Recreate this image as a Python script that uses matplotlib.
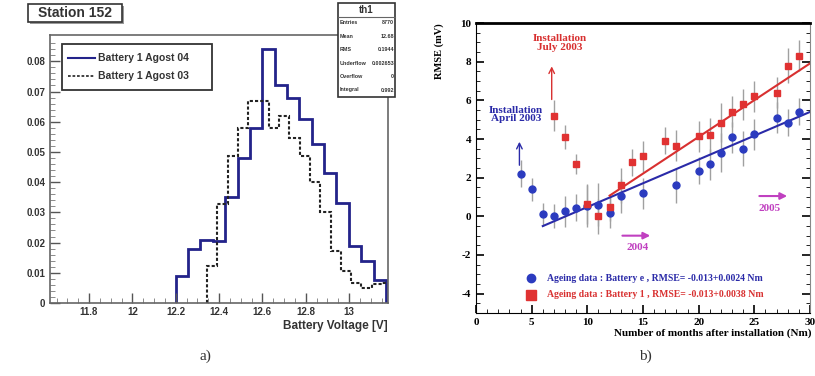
import numpy as np
import matplotlib
matplotlib.use("Agg")
import matplotlib.pyplot as plt
from matplotlib.patches import Rectangle

plt.rcParams["axes.unicode_minus"] = False

# ---- panel a) : battery voltage histograms ----
blue_start, blue_width = 12.2, 0.0571
blue_vals = [0.009, 0.018, 0.021, 0.0205, 0.035, 0.048, 0.058, 0.084, 0.072,
             0.068, 0.061, 0.0525, 0.043, 0.033, 0.019, 0.014, 0.0075]
black_start, black_width = 12.345, 0.0475
black_vals = [0.0123, 0.0327, 0.0487, 0.058, 0.067, 0.067, 0.058, 0.062, 0.0547,
              0.0487, 0.040, 0.030, 0.0172, 0.0106, 0.0067, 0.005, 0.0062, 0.0065]
hist_labels = ["Battery 1 Agost 04", "Battery 1 Agost 03"]
stat_names = ["Entries", "Mean", "RMS", "Underflow", "Overflow", "Integral"]
stat_vals = ["8770", "12.68", "0.1944", "0.002653", "0", "0.992"]

# ---- panel b) : RMSE ageing ----
blue_m = [4, 5, 6, 7, 8, 9, 10, 11, 12, 13, 15, 18, 20, 21, 22, 23, 24, 25, 27, 28, 29]
blue_y = [2.2, 1.4, 0.1, 0.02, 0.27, 0.45, 0.55, 0.6, 0.19, 1.05, 1.2, 1.6, 2.35,
          2.7, 3.3, 4.1, 3.5, 4.25, 5.1, 4.85, 5.4]
blue_e = [0.7, 0.6, 0.6, 0.6, 0.8, 0.7, 1.1, 1.1, 0.8, 0.9, 0.8, 0.9, 0.7, 0.8,
          1.0, 0.8, 0.9, 0.8, 0.8, 0.7, 0.7]
red_m = [7, 8, 9, 10, 11, 12, 13, 14, 15, 17, 18, 20, 21, 22, 23, 24, 25, 27, 28, 29]
red_y = [5.2, 4.1, 2.7, 0.62, 0.0, 0.48, 1.6, 2.8, 3.1, 3.9, 3.65, 4.15, 4.2,
         4.85, 5.4, 5.8, 6.2, 6.4, 7.8, 8.3]
red_e = [0.8, 0.6, 0.5, 1.0, 0.9, 0.7, 0.9, 0.7, 0.8, 0.7, 0.8, 0.8, 0.9, 1.0,
         0.8, 0.8, 0.8, 0.8, 0.9, 0.8]
blue_fit = (-1.98, 0.246, 6, 30)   # intercept, slope, from, to
red_fit = (-3.49, 0.38, 12, 30)
leg_b = ["Ageing data : Battery e , RMSE= -0.013+0.0024 Nm",
         "Ageing data : Battery 1 , RMSE= -0.013+0.0038 Nm"]

W, H = 815, 376
fig = plt.figure(figsize=(W / 100, H / 100), dpi=100)

def fx(px):
    return px / W

def fy(py):
    return 1 - py / H

sans = "Liberation Sans"
serif = "Liberation Serif"
navy = "#23238a"

# ================= left panel =================
ax = fig.add_axes([fx(50), fy(303), fx(338), fy(35) - fy(303)])
blue_edges = blue_start + blue_width * np.arange(len(blue_vals) + 1)
black_edges = black_start + black_width * np.arange(len(black_vals) + 1)
ax.stairs(blue_vals, blue_edges, baseline=0, color=navy, lw=2.0)
ax.stairs(black_vals, black_edges, baseline=0, color="#222222", lw=1.5,
          linestyle=(0, (1.5, 1)))
ax.set_xlim(11.62, 13.18)
ax.set_ylim(0, 0.0887)
ax.set_xticks(np.arange(11.8, 13.01, 0.2))
ax.set_xticklabels(["11.8", "12", "12.2", "12.4", "12.6", "12.8", "13"])
ax.set_xticks(np.arange(11.65, 13.18, 0.05), minor=True)
ax.set_yticks(np.arange(0, 0.081, 0.01))
ax.set_yticklabels(["0", "0.01", "0.02", "0.03", "0.04", "0.05", "0.06", "0.07", "0.08"])
ax.set_yticks(np.arange(0, 0.088, 0.002), minor=True)
ax.tick_params(direction="in", length=7, width=1, color="#555555", labelsize=7)
ax.tick_params(which="minor", direction="in", length=3.5, color="#777777")
ax.tick_params(axis="x", pad=3)
for lab in ax.get_xticklabels() + ax.get_yticklabels():
    lab.set_fontfamily(sans)
    lab.set_fontweight("bold")
    lab.set_color("#333333")
for s in ax.spines.values():
    s.set_color("#666666")
    s.set_linewidth(1.2)
fig.text(fx(388), fy(326), "Battery Voltage [V]", ha="right", va="center",
         fontsize=8.5, fontweight="bold", family=sans, color="#333333")

# legend box
fig.patches.append(Rectangle((fx(62), fy(90)), fx(150), fy(44) - fy(90),
                             transform=fig.transFigure, fc="white", ec="#333333", lw=1.3))
fig.lines.append(plt.Line2D([fx(68), fx(95)], [fy(58), fy(58)], transform=fig.transFigure,
                            color=navy, lw=1.5))
fig.lines.append(plt.Line2D([fx(68), fx(95)], [fy(76), fy(76)], transform=fig.transFigure,
                            color="#333333", lw=1.3, linestyle=(0, (1.5, 1))))
fig.text(fx(98), fy(58), hist_labels[0], ha="left", va="center", fontsize=7.5,
         fontweight="bold", family=sans, color="#333333")
fig.text(fx(98), fy(76), hist_labels[1], ha="left", va="center", fontsize=7.5,
         fontweight="bold", family=sans, color="#333333")

# title box
fig.patches.append(Rectangle((fx(30), fy(24)), fx(94), fy(5) - fy(23),
                             transform=fig.transFigure, fc="#999999", ec="none"))
fig.patches.append(Rectangle((fx(28), fy(22)), fx(94), fy(4) - fy(22),
                             transform=fig.transFigure, fc="white", ec="#333333", lw=1.2))
fig.text(fx(75), fy(13), "Station 152", ha="center", va="center", fontsize=10,
         fontweight="bold", family=sans, color="#333333")

# stat box
fig.patches.append(Rectangle((fx(338), fy(97)), fx(57), fy(3) - fy(97),
                             transform=fig.transFigure, fc="white", ec="#333333", lw=1.2))
fig.lines.append(plt.Line2D([fx(338), fx(395)], [fy(17), fy(17)], transform=fig.transFigure,
                            color="#666666", lw=0.8))
fig.text(fx(366), fy(10), "th1", ha="center", va="center", fontsize=7,
         fontweight="bold", family=sans, color="#333333")
for i, (nm, v) in enumerate(zip(stat_names, stat_vals)):
    yy = fy(23 + i * 13.4)
    fig.text(fx(340), yy, nm, ha="left", va="center", fontsize=3.9,
             fontweight="bold", family=sans, color="#333333")
    fig.text(fx(394), yy, v, ha="right", va="center", fontsize=3.9,
             fontweight="bold", family=sans, color="#333333")

fig.text(fx(205), fy(356), "a)", ha="center", va="center", fontsize=11,
         family=serif, color="#333333")

# ================= right panel =================
bx = fig.add_axes([fx(476), fy(313), fx(334), fy(23) - fy(313)])
bx.errorbar(blue_m, blue_y, yerr=blue_e, fmt="none", ecolor="#a0a0a0", elinewidth=1, zorder=1)
bx.errorbar(red_m, red_y, yerr=red_e, fmt="none", ecolor="#a0a0a0", elinewidth=1, zorder=1)
xb = np.array(blue_fit[2:])
bx.plot(xb, blue_fit[0] + blue_fit[1] * xb, color="#2a2aa8", lw=1.5, zorder=2)
xr = np.array(red_fit[2:])
bx.plot(xr, red_fit[0] + red_fit[1] * xr, color="#d83030", lw=1.5, zorder=2)
bx.plot(blue_m, blue_y, "o", color="#2b3bbf", ms=5, zorder=3)
bx.plot(red_m, red_y, "s", color="#e03232", ms=5, zorder=3)
bx.set_xlim(0, 30)
bx.set_ylim(-5, 10)
bx.set_xticks(np.arange(0, 31, 5))
bx.set_xticks(np.arange(0, 31, 1), minor=True)
bx.set_yticks(np.arange(-4, 11, 2))
bx.set_yticks(np.arange(-5, 10.1, 0.5), minor=True)
bx.tick_params(direction="in", length=6, width=1.2, labelsize=8, right=True)
bx.tick_params(which="minor", direction="in", length=3, right=True)
for lab in bx.get_xticklabels() + bx.get_yticklabels():
    lab.set_fontfamily(serif)
    lab.set_fontweight("bold")
bx.spines["top"].set_linewidth(2)
bx.spines["right"].set_color("#888888")
bx.set_ylabel("RMSE (mV)", fontsize=7.5, fontweight="bold", family=serif, labelpad=10)
bx.yaxis.set_label_coords(-0.095, 1.0)
bx.yaxis.label.set_ha("right")
fig.text(fx(811), fy(333), "Number of months after installation (Nm)", ha="right",
         va="center", fontsize=8, fontweight="bold", family=serif)

# installation annotations
bx.text(7.5, 8.95, "Installation\nJuly 2003", ha="center", va="center", fontsize=8,
        fontweight="bold", family=serif, color="#d83030", linespacing=0.95)
bx.annotate("", xy=(6.8, 7.9), xytext=(6.8, 5.9),
            arrowprops=dict(arrowstyle="->", color="#d83030", lw=1))
bx.text(3.6, 5.25, "Installation\nApril 2003", ha="center", va="center", fontsize=8,
        fontweight="bold", family=serif, color="#2a2aa8", linespacing=0.85)
bx.annotate("", xy=(3.9, 4.0), xytext=(3.9, 2.5),
            arrowprops=dict(arrowstyle="->", color="#2a2aa8", lw=1))

# year arrows
mag = "#c040c0"
bx.annotate("", xy=(15.9, -1.0), xytext=(12.9, -1.0),
            arrowprops=dict(arrowstyle="-|>", color=mag, lw=1.5, mutation_scale=10))
bx.text(14.5, -1.6, "2004", ha="center", va="center", fontsize=8,
        fontweight="bold", family=serif, color=mag)
bx.annotate("", xy=(28.2, 1.05), xytext=(25.2, 1.05),
            arrowprops=dict(arrowstyle="-|>", color=mag, lw=1.5, mutation_scale=10))
bx.text(26.4, 0.4, "2005", ha="center", va="center", fontsize=8,
        fontweight="bold", family=serif, color=mag)

# legend
bx.plot([4.9], [-3.2], "o", color="#2b3bbf", ms=6)
bx.plot([4.9], [-4.05], "s", color="#e03232", ms=7)
bx.text(6.4, -3.2, leg_b[0], ha="left", va="center", fontsize=7,
        fontweight="bold", family=serif, color="#2a2aa8")
bx.text(6.4, -4.05, leg_b[1], ha="left", va="center", fontsize=7,
        fontweight="bold", family=serif, color="#d83030")

fig.text(fx(645), fy(356), "b)", ha="center", va="center", fontsize=11,
         family=serif, color="#333333")

fig.savefig("out.png", dpi=100)
